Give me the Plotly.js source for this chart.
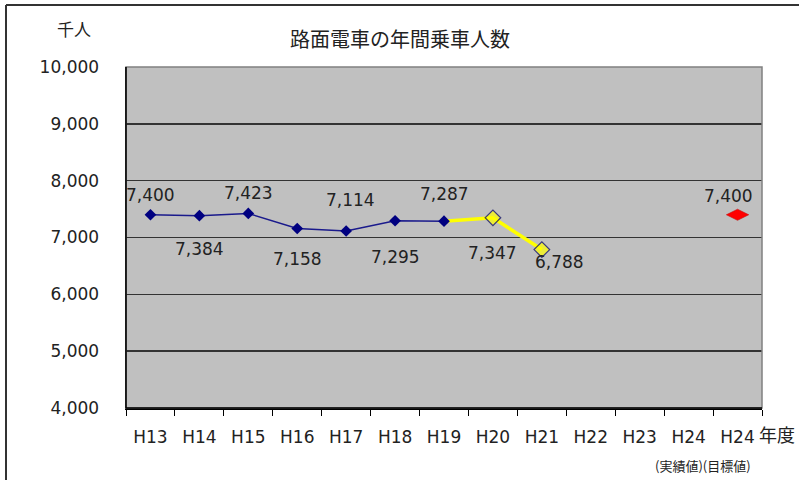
<!DOCTYPE html>
<html><head><meta charset="utf-8">
<script src="https://cdn.plot.ly/plotly-3.0.1.min.js"></script>
<style>html,body{margin:0;padding:0;background:#fff}#chart{width:799px;height:480px}</style>
</head><body><div id="chart"></div>
<script>
const categories = ["H13","H14","H15","H16","H17","H18","H19","H20","H21","H22","H23","H24","H24"];
const actualValues = [7400,7384,7423,7158,7114,7295,7287];          // H13-H19
const recentValues = [7287,7347,6788];                              // H19-H21
const targetValue = 7400;                                           // H24 (目標値)
const yTicks = [4000,5000,6000,7000,8000,9000,10000];
const yTickText = ["4,000","5,000","6,000","7,000","8,000","9,000","10,000"];

const idx = categories.map((c,i)=>i);
const actualX = idx.slice(0,7);
const recentX = idx.slice(6,9);
const targetX = [idx[12]];

const numFont = "DejaVu Sans, Liberation Sans, sans-serif";
const jpFont = "Noto Sans CJK JP, sans-serif";

const traces = [
  {x: recentX, y: recentValues, type:'scatter', mode:'lines+markers',
   line:{color:'#ffff00', width:3.5},
   marker:{symbol:'diamond', size:[0,12,12], color:'#ffff00', line:{color:'#000060', width:1.2}},
   hoverinfo:'skip', showlegend:false},
  {x: actualX, y: actualValues, type:'scatter', mode:'lines+markers',
   line:{color:'#1a1a8c', width:1.5},
   marker:{symbol:'diamond', size:9, color:'#000080'},
   hoverinfo:'skip', showlegend:false},
  {x: targetX, y: [targetValue], type:'scatter', mode:'markers',
   marker:{symbol:'diamond-wide', size:16, color:'#ff0000', line:{color:'#c00000', width:0.5}},
   hoverinfo:'skip', showlegend:false}
];

function fmt(v){return v.toLocaleString('en-US');}
const lblFont = {family:numFont,size:17,color:'#222'};
const labelShifts = [[0,20],[0,-33],[0,20],[0,-30],[4,31],[0,-36],[0,27]];
const annotations = [];
actualValues.forEach((v,i)=>{
  annotations.push({x:actualX[i], y:v, text:fmt(v), showarrow:false,
    xshift:labelShifts[i][0], yshift:labelShifts[i][1], font:lblFont});
});
annotations.push({x:recentX[1], y:recentValues[1], text:fmt(recentValues[1]), showarrow:false, yshift:-35, font:lblFont});
annotations.push({x:recentX[2], y:recentValues[2], text:fmt(recentValues[2]), showarrow:false, xshift:18, yshift:-12, font:lblFont});
annotations.push({x:targetX[0], y:targetValue, text:fmt(targetValue), showarrow:false, xshift:-9, yshift:19, font:lblFont});

const L=126, R=762, T=67, B=408;
function px(x){return (x-L)/(R-L);}
function py(y){return (B-y)/(B-T);}
annotations.push({xref:'paper', yref:'paper', x:px(74), y:py(28), xanchor:'center', yanchor:'middle', text:'千人', showarrow:false, font:{family:jpFont,size:17,color:'#222'}});
annotations.push({xref:'paper', yref:'paper', x:px(777), y:py(434), xanchor:'center', yanchor:'middle', text:'年度', showarrow:false, font:{family:jpFont,size:18,color:'#222'}});
annotations.push({xref:'paper', yref:'paper', x:px(703), y:py(465), xanchor:'center', yanchor:'middle', text:'(実績値)(目標値)', showarrow:false, font:{family:jpFont,size:13,color:'#222'}});

const bounds = [];
for (let i=0;i<=categories.length;i++) bounds.push(i-0.5);

const layout = {
  width:799, height:480,
  margin:{l:L, r:799-R, t:T, b:480-B},
  paper_bgcolor:'#ffffff', plot_bgcolor:'#c0c0c0',
  title:{text:'路面電車の年間乗車人数', x:400/799, xref:'container', y:1-40/480, yref:'container', yanchor:'middle', xanchor:'center',
    font:{family:jpFont, size:20, color:'#222'}},
  xaxis:{range:[-0.5,12.5], tickmode:'array', tickvals:idx, ticktext:categories,
    ticks:'', showgrid:false, zeroline:false, showline:true, linecolor:'#000', linewidth:1.5,
    ticklabelstandoff:13, tickfont:{family:numFont,size:17,color:'#222'},
    minor:{tickmode:'array', tickvals:bounds, ticks:'outside', ticklen:6, tickcolor:'#000', tickwidth:1, showgrid:false},
    fixedrange:true},
  yaxis:{range:[4000,10000], tickmode:'array', tickvals:yTicks, ticktext:yTickText,
    ticks:'', showgrid:true, gridcolor:'#333', gridwidth:1.5, zeroline:false,
    showline:true, linecolor:'#000', linewidth:1.5, ticklabelstandoff:22,
    tickfont:{family:numFont,size:17,color:'#222'}, fixedrange:true},
  annotations: annotations,
  shapes:[
    {type:'rect', xref:'paper', yref:'paper', x0:0, x1:1, y0:0, y1:1, line:{color:'#808080', width:1.5}, layer:'above'},
    {type:'line', xref:'paper', yref:'paper', x0:px(6), x1:px(6), y0:py(5), y1:py(485), line:{color:'#333', width:2}},
    {type:'line', xref:'paper', yref:'paper', x0:px(6), x1:px(805), y0:py(5), y1:py(5), line:{color:'#333', width:2}},
    {type:'line', xref:'paper', yref:'paper', x0:0, x1:0, y0:0, y1:1, line:{color:'#000', width:1.5}, layer:'above'},
    {type:'line', xref:'paper', yref:'paper', x0:0, x1:1, y0:0, y1:0, line:{color:'#000', width:1.5}, layer:'above'}
  ],
  showlegend:false
};
Plotly.newPlot('chart', traces, layout, {displayModeBar:false, staticPlot:true});
</script></body></html>
